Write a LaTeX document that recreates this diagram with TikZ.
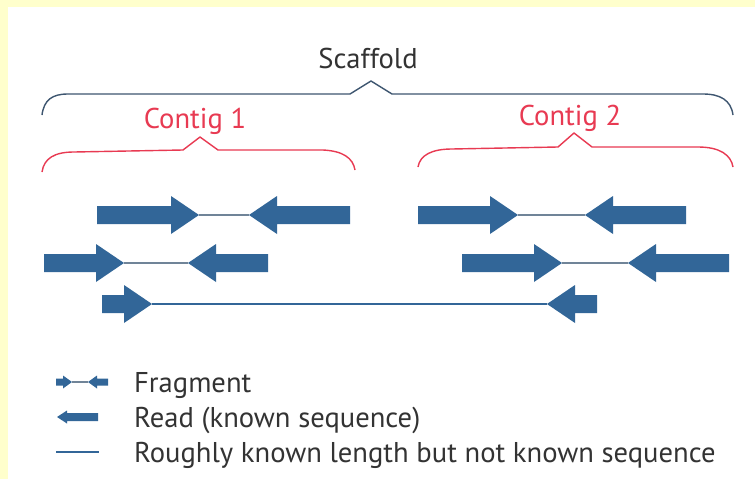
\documentclass[tikz,border=0pt]{standalone}
\usepackage{fontspec}
\setmainfont{PT Sans}
\definecolor{paper}{RGB}{255,255,204}
\definecolor{readblue}{RGB}{50,102,152}
\definecolor{gapgrey}{RGB}{112,132,152}
\definecolor{scafcol}{RGB}{62,86,112}
\definecolor{contigred}{RGB}{232,58,82}
\definecolor{inkgrey}{RGB}{51,51,51}

% right-pointing read: name, start x, tip x, y
\newcommand\readright[4]{%
  \fill[readblue] (#2,#4-9) -- (#3-28,#4-9) -- (#3-28,#4-19) -- (#3,#4)
    -- (#3-28,#4+19) -- (#3-28,#4+9) -- (#2,#4+9) -- cycle;
  \coordinate (#1) at (#3,#4);}
% left-pointing read: name, tip x, end x, y
\newcommand\readleft[4]{%
  \fill[readblue] (#3,#4-9) -- (#2+28,#4-9) -- (#2+28,#4-19) -- (#2,#4)
    -- (#2+28,#4+19) -- (#2+28,#4+9) -- (#3,#4+9) -- cycle;
  \coordinate (#1) at (#2,#4);}

\begin{document}
\begin{tikzpicture}[x=1pt,y=-1pt,
  gap/.style={draw=gapgrey,line width=2pt},
  longgap/.style={draw=readblue,line width=2.5pt},
  scafbrace/.style={draw=scafcol,line width=1.4pt,line join=round},
  contigbrace/.style={draw=contigred,line width=1.4pt,line join=round},
  lbl/.style={inner sep=0pt,font=\fontsize{28.6}{34}\selectfont},
  legendtxt/.style={lbl,text=inkgrey,anchor=base west}]
\useasboundingbox (0,0) rectangle (755,479);
\fill[paper] (0,0) rectangle (755,479);
\fill[white] (8,7) rectangle (755,479);

% braces
\draw[scafbrace] (42,115) .. controls (44,100) and (52,94) .. (68,94)
  -- (350,94) -- (371,81) -- (392,94) -- (703,94)
  .. controls (720,94) and (731,100) .. (733,115);
\draw[contigbrace] (42,172) .. controls (44,158) and (55,152) .. (74,152)
  -- (183,150) -- (200,137) -- (218,150) -- (323,150)
  .. controls (343,151) and (353,158) .. (355,170);
\draw[contigbrace] (418,167) .. controls (420,155) and (432,149) .. (452,149)
  -- (558,147) -- (574,133) -- (592,147) -- (698,147)
  .. controls (720,147) and (731,155) .. (733,167);

\node[lbl,text=inkgrey,anchor=base] (scaffold) at (368,68) {Scaffold};
\node[lbl,text=contigred,anchor=base] (contig1) at (195,128) {Contig 1};
\node[lbl,text=contigred,anchor=base] (contig2) at (570,125) {Contig 2};

% fragments, contig 1
\readright{a1}{97}{199}{215}
\readleft{a2}{249}{350}{215}
\draw[gap] (a1) -- (a2);
\readright{b1}{44}{124}{263}
\readleft{b2}{188}{268}{263}
\draw[gap] (b1) -- (b2);
% fragments, contig 2
\readright{c1}{418}{518}{215}
\readleft{c2}{585}{686}{215}
\draw[gap] (c1) -- (c2);
\readright{d1}{462}{562}{263}
\readleft{d2}{628}{729}{263}
\draw[gap] (d1) -- (d2);
% spanning fragment
\draw[longgap] (152,304) -- (547,304);
\readright{e1}{102}{152}{304}
\readleft{e2}{547}{597}{304}

% legend
\fill[readblue] (56,378.5) -- (63,378.5) -- (63,375.5) -- (72,382) -- (63,388.5) -- (63,385.5) -- (56,385.5) -- cycle;
\fill[readblue] (108,378.5) -- (97,378.5) -- (97,375.5) -- (88,382) -- (97,388.5) -- (97,385.5) -- (108,385.5) -- cycle;
\coordinate (lf1) at (72,382);
\coordinate (lf2) at (88,382);
\draw[gapgrey,line width=1.5pt] (lf1) -- (lf2);
\fill[readblue] (98,413) -- (67,413) -- (67,410.5) -- (57,417) -- (67,423.5) -- (67,421) -- (98,421) -- cycle;
\coordinate (ll1) at (56,452);
\coordinate (ll2) at (99,452);
\draw[readblue,line width=2.2pt] (ll1) -- (ll2);

\node[legendtxt] (tfrag) at (134,392) {Fragment};
\node[legendtxt] (tread) at (134,427) {Read (known sequence)};
\node[legendtxt] (tline) at (134,462) {Roughly known length but not known sequence};
\end{tikzpicture}
\end{document}
